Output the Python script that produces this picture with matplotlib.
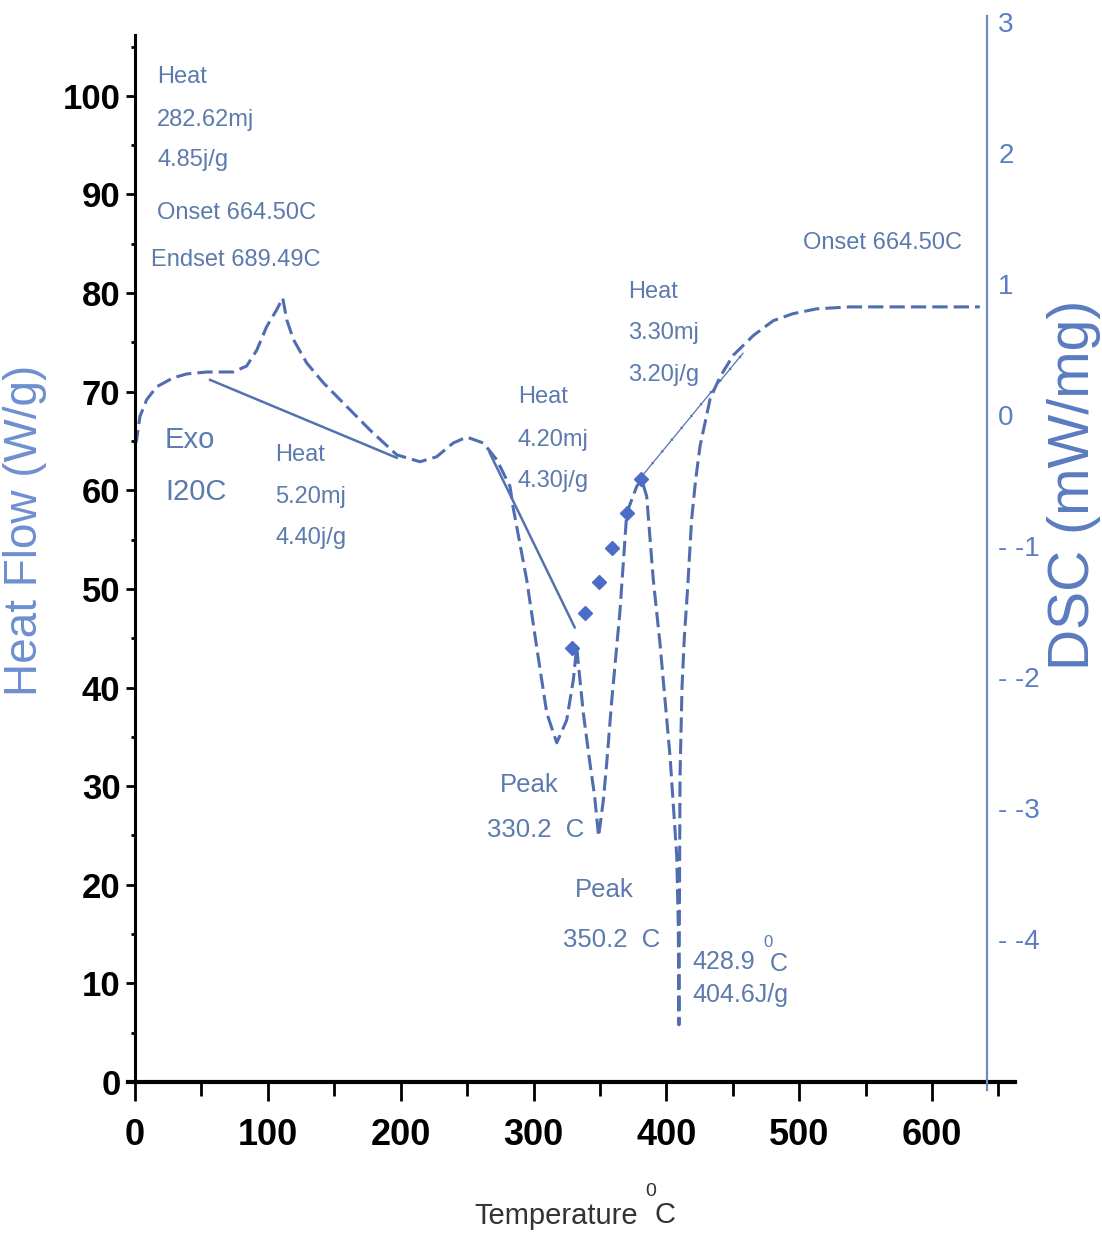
import numpy as np
import matplotlib.pyplot as plt
from matplotlib.ticker import MultipleLocator

# DSC trace: temperature (C) and heat flow (W/g)
temp = [0, 1.2, 3.7, 8.8, 16.3, 28.6, 38.9, 54, 73.8, 84, 91.6, 99.1, 106.6, 111.2,
        114.2, 119.2, 129.3, 141.8, 159.4, 177, 197, 214.5, 227, 239.6, 249.7, 262.2,
        272.3, 282.3, 284.6, 294.9, 302.4, 310, 317.5, 325, 330, 332.5,
        337.5, 342.5, 346, 349, 352.6, 355.1, 358.9, 365, 370.2, 377.7, 381.4,
        385.2, 390.2, 395.2, 402.8, 407.8, 409, 409.5,
        409.8, 410.3, 411.8, 413.5, 416, 419, 422, 425.4, 433, 440.4, 450.4,
        465.5, 480.5, 495, 513, 538, 580, 636]
heat = [64.6, 65.1, 67.5, 69.2, 70.5, 71.4, 71.8, 72.0, 72.0, 72.6, 74.2, 76.6, 78.3, 79.5,
        77.3, 75.3, 72.9, 70.9, 68.5, 66.1, 63.6, 62.9, 63.4, 64.8, 65.4, 64.8,
        63.1, 60.4, 58.3, 50.9, 44.1, 37.4, 34.4, 36.7, 40.8, 44.1,
        37.4, 32.3, 29.0, 24.9, 28.6, 32.3, 38.7, 47.6, 57.7, 60.4, 61.1,
        59.4, 50.9, 44.5, 33.0, 23.0, 16.0, 5.8,
        16.0, 31.0, 40.0, 45.0, 50.0, 57.0, 61.0, 64.5, 69.3, 71.5, 73.7,
        75.7, 77.2, 77.9, 78.4, 78.6, 78.6, 78.6]

# fitted baselines of the three events
base1_t = [56.5, 197.0]
base1_h = [71.2, 63.3]
base2_t = [267.0, 331.0]
base2_h = [63.8, 46.1]
base3_t = [382.0, 457.7]
base3_h = [61.5, 73.9]

# diamond markers along the rising edge
dia_t = [329, 339, 349, 359, 370.4, 381]
dia_h = [44.0, 47.6, 50.7, 54.2, 57.7, 61.1]

dsc_ticks = [-4, -3, -2, -1, 0, 1, 2, 3]
dsc_labels = ["- -4", "- -3", "- -2", "- -1", "0", "1", "2", "3"]

W, H = 1102, 1243
plt.rcParams["font.family"] = ["Liberation Sans", "DejaVu Sans"]

line_c = "#4f6db0"
text_c = "#5c7aad"

fig = plt.figure(figsize=(W / 100, H / 100), dpi=100)
ax = fig.add_axes([128.4 / W, 1 - 1082 / H, (1015 - 128.4) / W, (1082 - 15) / H])
ax.set_xlim(-5, 662.5)
ax.set_ylim(0, 108.2)

ax.plot(temp, heat, color=line_c, lw=2.2, dashes=(5, 2))
ax.plot(base1_t, base1_h, color="#5572b0", lw=1.8)
ax.plot(base2_t, base2_h, color="#5572b0", lw=1.8)
ax.plot(base3_t, base3_h, color="#5572b0", lw=0.9)
ax.plot(base3_t, base3_h, color="#5572b0", lw=2.0, linestyle=(0, (0.5, 5)))
ax.plot(dia_t, dia_h, linestyle="none", marker="D", ms=7, color="#4b6cc8")

# spines and ticks
for s in ["top", "right"]:
    ax.spines[s].set_visible(False)
ax.spines["left"].set_position(("data", 0))
ax.spines["left"].set_bounds(0, 106.2)
ax.spines["left"].set_linewidth(2.2)
ax.spines["bottom"].set_linewidth(3)

ax.set_xticks(range(0, 601, 100))
ax.xaxis.set_minor_locator(MultipleLocator(50))
ax.set_yticks(range(0, 101, 10))
ax.yaxis.set_minor_locator(MultipleLocator(5))
ax.tick_params(axis="x", which="major", length=14, width=2, pad=12,
               labelsize=26, direction="out")
ax.tick_params(axis="x", which="minor", length=10, width=2, direction="out")
ax.tick_params(axis="y", which="major", length=6.5, width=2, pad=4,
               labelsize=25, direction="out")
ax.tick_params(axis="y", which="minor", length=3, width=2, direction="out")
for lab in ax.get_xticklabels() + ax.get_yticklabels():
    lab.set_fontweight("bold")

ax2 = ax.twinx()
ax2.set_ylim(-5.09, 3.05)
for s in ["top", "left", "bottom"]:
    ax2.spines[s].set_visible(False)
ax2.spines["right"].set_position(("data", 641.5))
ax2.spines["right"].set_bounds(-5.15, 3.04)
ax2.spines["right"].set_color("#6f88c0")
ax2.spines["right"].set_linewidth(1.6)
ax2.set_yticks(dsc_ticks)
ax2.set_yticklabels(dsc_labels)
ax2.tick_params(axis="y", length=0, pad=8, labelsize=20, labelcolor="#5b7ec2")

# annotations
notes = [
    (16.6, 101.9, "Heat", 17), (16.6, 97.6, "282.62mj", 17), (16.6, 93.5, "4.85j/g", 17),
    (16.6, 88.1, "Onset 664.50C", 17), (12.0, 83.4, "Endset 689.49C", 17),
    (22.6, 65.1, "Exo", 21), (22.6, 59.8, "I20C", 21),
    (105.4, 63.6, "Heat", 17), (105.4, 59.3, "5.20mj", 17), (105.4, 55.2, "4.40j/g", 17),
    (288.3, 69.5, "Heat", 17), (288.3, 65.1, "4.20mj", 17), (288.3, 60.9, "4.30j/g", 17),
    (371.2, 80.1, "Heat", 17), (371.2, 76.0, "3.30mj", 17), (371.2, 71.7, "3.20j/g", 17),
    (502.9, 85.1, "Onset 664.50C", 17),
    (274.8, 30.1, "Peak", 18.5), (265.0, 25.6, "330.2  C", 18.5),
    (331.3, 19.5, "Peak", 18.5), (322.2, 14.4, "350.2  C", 18.5),
    (419.3, 12.2, "428.9", 18), (478.0, 12.0, "C", 18), (419.3, 8.8, "404.6J/g", 18),
]
for x, y, s, fs in notes:
    ax.text(x, y, s, fontsize=fs, color=text_c, ha="left", va="center")
ax.text(472.8, 14.1, "0", fontsize=12, color=text_c, ha="left", va="center")

# axis titles
fig.text(474 / W, 1 - 1216 / H, "Temperature", fontsize=21, color="#333333",
         ha="left", va="center")
fig.text(645 / W, 1 - 1192 / H, "0", fontsize=14, color="#333333", ha="left", va="center")
fig.text(654 / W, 1 - 1215 / H, "C", fontsize=21, color="#333333", ha="left", va="center")
fig.text(25 / W, 1 - 530 / H, "Heat Flow (W/g)", fontsize=33, color="#6e8fd0",
         rotation=90, ha="center", va="center")
fig.text(1074 / W, 1 - 485 / H, "DSC (mW/mg)", fontsize=41, color="#5a7cc0",
         rotation=90, ha="center", va="center")

fig.savefig("out.png", dpi=100, facecolor="white")
